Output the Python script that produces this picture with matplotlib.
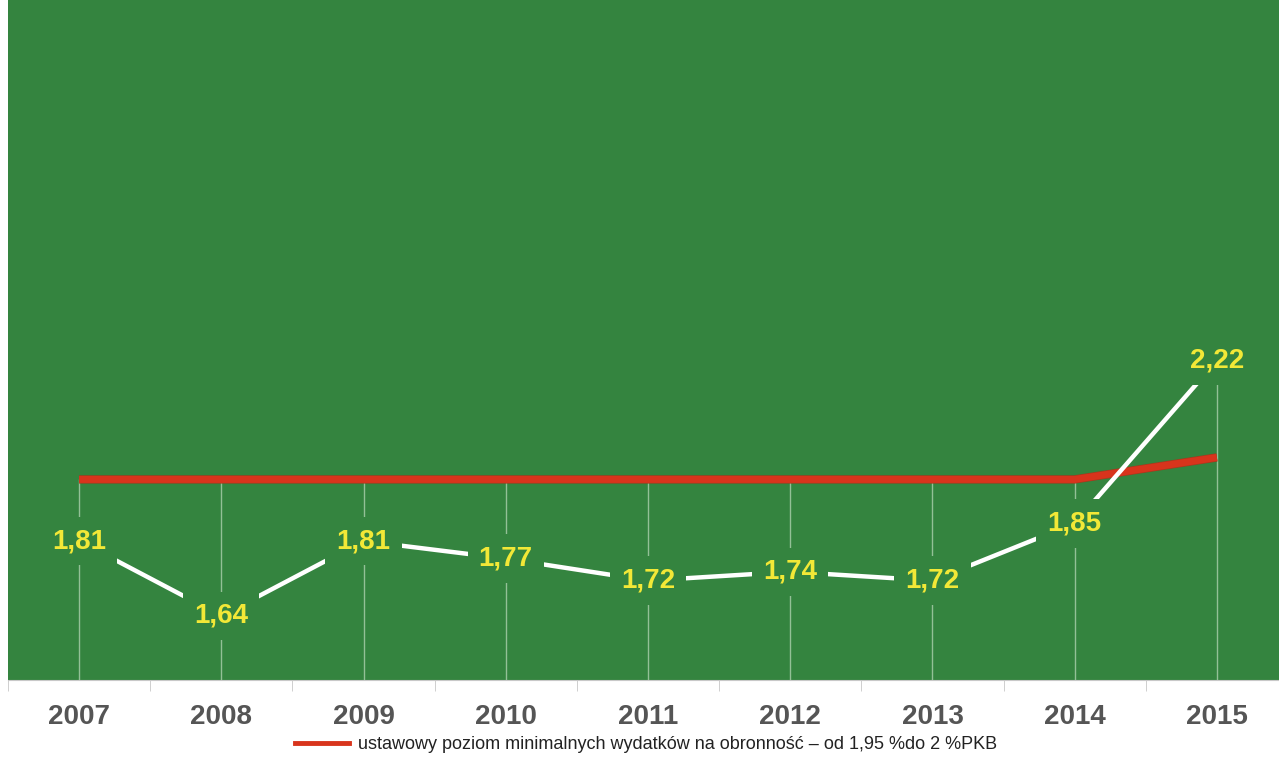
import numpy as np
import matplotlib
matplotlib.use('Agg')
import matplotlib.pyplot as plt
import matplotlib.patheffects as pe
from matplotlib import font_manager as fm

years = ['2007', '2008', '2009', '2010', '2011', '2012', '2013', '2014', '2015']
spending = [1.81, 1.64, 1.81, 1.77, 1.72, 1.74, 1.72, 1.85, 2.22]
minimum = [1.95, 1.95, 1.95, 1.95, 1.95, 1.95, 1.95, 1.95, 2.00]
legend_label = 'ustawowy poziom minimalnych wydatków na obronność – od 1,95 %do 2 %PKB'

green = '#34843f'

# pick a narrow face if one is installed
names = {f.name for f in fm.fontManager.ttflist}
if 'Liberation Sans Narrow' in names:
    narrow, big, lab, small = 'Liberation Sans Narrow', 22, 22, 15
elif 'DejaVu Sans Condensed' in names:
    narrow, big, lab, small = 'DejaVu Sans Condensed', 19, 19, 13
else:
    narrow, big, lab, small = 'Liberation Sans', 20, 20, 13
fam = [narrow, 'DejaVu Sans']

fig = plt.figure(figsize=(12.79, 7.65), dpi=100)
ax = fig.add_axes([8 / 1279, 85 / 765, 1280 / 1279, 680 / 765])
ax.set_facecolor(green)

x = np.arange(len(years))

# drop lines from top of series to the bottom
tops = np.maximum(spending, minimum)
ax.vlines(x, 1.49, tops, color='#93c096', lw=1, zorder=1)

ax.plot(x, minimum, color='#d8341c', lw=5, solid_capstyle='butt', zorder=2,
        label=legend_label,
        path_effects=[pe.Stroke(linewidth=6, foreground='#a8381c'), pe.Normal()])
ax.plot(x, spending, color='white', lw=3.2, zorder=3)

for xi, v in zip(x, spending):
    ax.text(xi, v, f'{v:.2f}'.replace('.', ','), ha='center', va='center',
            fontsize=lab, fontweight='bold', color='#f2e837', family=fam,
            bbox=dict(boxstyle='square,pad=0.4', fc=green, ec='none'), zorder=4)

ax.set_xlim(-0.5, len(years) - 0.5)
ax.set_ylim(1.494, 3.04)
ax.set_yticks([])
ax.set_xticks(x)
ax.set_xticklabels(years, fontsize=big, fontweight='bold', color='#555555', family=fam)
ax.tick_params(axis='x', which='major', length=0, pad=17)
ax.set_xticks(np.arange(-0.5, len(years), 1), minor=True)
ax.tick_params(axis='x', which='minor', length=8, color='#c8c8c8')
for s in ['top', 'right', 'left']:
    ax.spines[s].set_visible(False)
ax.spines['bottom'].set_color('#c8c8c8')

leg = fig.legend(handles=[plt.Line2D([], [], color='#d8341c', lw=3.5)],
                 labels=[legend_label], loc='center',
                 bbox_to_anchor=(0.505, 0.027), frameon=False,
                 handlelength=3.0, handletextpad=0.5,
                 prop={'family': fam, 'size': small})
for t in leg.get_texts():
    t.set_color('#222222')

fig.savefig('out.png', dpi=100)
